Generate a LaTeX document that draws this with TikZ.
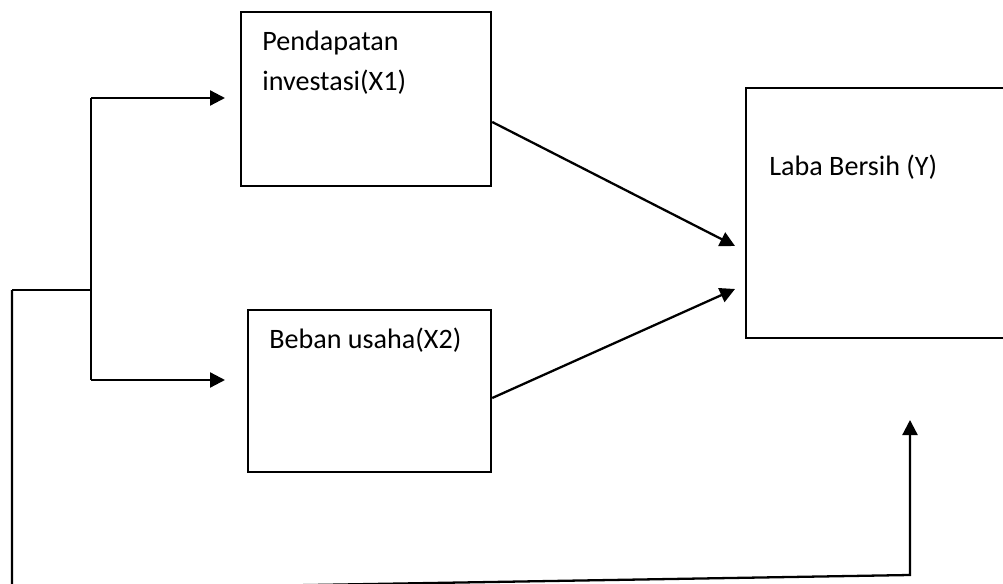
\documentclass[tikz,border=0pt]{standalone}
\usepackage{fontspec}
\setmainfont{Carlito}
\usetikzlibrary{arrows.meta}

\tikzset{
	box/.style={draw, line width=1.3pt, rectangle, anchor=north west, inner sep=0pt},
	lbl/.style={anchor=base west, inner sep=0pt, font=\fontsize{16}{22.8}\selectfont, align=left},
	link/.style={line width=1.3pt, -{Triangle[length=0.3cm,width=0.3cm]}},
	wire/.style={line width=1.3pt}
}

\begin{document}
\begin{tikzpicture}[x=0.02cm, y=-0.02cm]
\useasboundingbox (0,0) rectangle (1003,584);
\begin{scope}
	\clip (0,0) rectangle (1003,584);
	% boxes
	\node[box, minimum width=5cm, minimum height=3.48cm] (x1) at (240, 11) {};
	\node[box, minimum width=4.86cm, minimum height=3.24cm] (x2) at (247, 309) {};
	\node[box, minimum width=5.6cm, minimum height=5cm] (y) at (745, 87) {};
	\node[lbl] (x1txt) at (262, 91) {Pendapatan\\investasi(X1)};
	\node[lbl] (x2txt) at (269, 348) {Beban usaha(X2)};
	\node[lbl] (ytxt) at (769, 175) {Laba Bersih (Y)};
	% free ends
	\coordinate (c0) at (12, 290);
	\coordinate (c1) at (91, 290);
	\coordinate (c2) at (91, 98);
	\coordinate (c3) at (91, 380);
	\coordinate (a1) at (225, 98);
	\coordinate (a2) at (225, 380);
	\coordinate (b0) at (12, 590);
	\coordinate (b1) at (910, 575);
	\coordinate (b2) at (910, 420);
	\coordinate (y1) at (735, 246);
	\coordinate (y2) at (735, 289);
	% connectors
	\draw[wire] (c0) -- (c1);
	\draw[wire] (c2) -- (c3);
	\draw[link] (c2) -- (a1);
	\draw[link] (c3) -- (a2);
	\draw[link] (x1.east |- 0,122) -- (y1);
	\draw[link] (x2.east |- 0,398) -- (y2);
	\draw[link] (c0) -- (b0) -- (b1) -- (b2);
\end{scope}
\end{tikzpicture}
\end{document}
